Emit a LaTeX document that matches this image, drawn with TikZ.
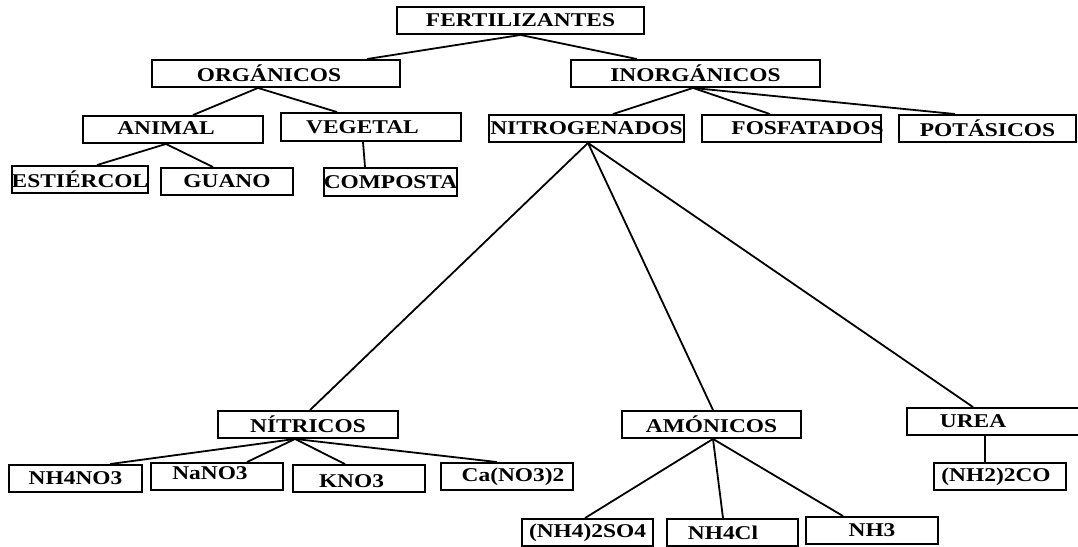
\documentclass[tikz,border=0pt]{standalone}
\usepackage{fontspec}
\setmainfont{Liberation Serif}[FakeStretch=1.2]

\begin{document}
\begin{tikzpicture}[x=1pt,y=-1pt,line width=1.9pt,
    font=\fontsize{19.5}{21}\selectfont\bfseries,
    caja/.style={draw,rectangle,inner sep=0pt,minimum height=27pt},
    rama/.style={line width=1.8pt}]

    \useasboundingbox (0,0) rectangle (1078,546);

    % las cajas

    \node[caja,minimum width=247pt] (fert) at (520.5,20.5) {FERTILIZANTES};

    \node[caja,minimum width=248pt,label={[xshift=-7pt]center:ORGÁNICOS}] (orga) at (276,73.5) {};
    \node[caja,minimum width=249pt] (inor) at (695.5,73.5) {INORGÁNICOS};

    \node[caja,minimum width=180pt,label={[xshift=-7pt,yshift=1pt]center:ANIMAL}] (anim) at (173,129.5) {};
    \node[caja,minimum width=180pt,minimum height=28pt,label={[xshift=-8.5pt]center:VEGETAL}] (vege) at (371,127) {};
    \node[caja,minimum width=132pt] (estie) at (80,179.5) {ESTIÉRCOL};
    \node[caja,minimum width=132pt] (guano) at (227,181.5) {GUANO};
    \node[caja,minimum width=133pt,minimum height=28pt] (compo) at (390.5,182) {COMPOSTA};

    \node[caja,minimum width=195pt] (nitro) at (586.5,128.5) {NITROGENADOS};
    \node[caja,minimum width=179pt,label={[xshift=16pt]center:FOSFATADOS}] (fosfa) at (791.5,128.5) {};
    \node[caja,minimum width=177pt] (potas) at (987.5,128.5) {POTÁSICOS};

    \node[caja,minimum width=180pt] (nitri) at (308,424.5) {NÍTRICOS};
    \node[caja,minimum width=179pt] (amoni) at (711.5,424.5) {AMÓNICOS};
    \node[caja,minimum width=179pt,label={[xshift=-23.5pt]center:UREA}] (urea) at (996.5,421.5) {};

    \node[caja,minimum width=133pt] (nhno) at (75.5,478.5) {NH4NO3};
    \node[caja,minimum width=132pt,label={[xshift=-7pt,yshift=3.5pt]center:NaNO3}] (nano) at (217,476.5) {};
    \node[caja,minimum width=132pt,label={[xshift=-7.5pt,yshift=-3pt]center:KNO3}] (kno) at (359,478.5) {};
    \node[caja,minimum width=132pt,label={[xshift=6pt]center:Ca(NO3)2}] (cano) at (507,476.5) {};

    \node[caja,minimum width=131pt] (nhso) at (587.5,532.5) {(NH4)2SO4};
    \node[caja,minimum width=131pt,label={[xshift=-9.5pt]center:NH4Cl}] (nhcl) at (732.5,532.5) {};
    \node[caja,minimum width=132pt] (nhtr) at (872,530.5) {NH3};

    \node[caja,minimum width=132pt,label={[xshift=-4pt]center:(NH2)2CO}] (nhco) at (1000,476.5) {};

    % las ramas

    \draw[rama] (fert.south) to ([xshift=91pt]orga.north);
    \draw[rama] (fert.south) to ([xshift=-58.5pt]inor.north);

    \draw[rama] ([xshift=-18pt]orga.south) to ([xshift=20pt]anim.north);
    \draw[rama] ([xshift=-18pt]orga.south) to ([xshift=-34pt]vege.north);
    \draw[rama] ([xshift=-7pt]anim.south) to ([xshift=17pt]estie.north);
    \draw[rama] ([xshift=-7pt]anim.south) to ([xshift=-14pt]guano.north);
    \draw[rama] ([xshift=-8pt]vege.south) to ([xshift=-25.5pt]compo.north);

    \draw[rama] ([xshift=-2.5pt]inor.south) to ([xshift=26.5pt]nitro.north);
    \draw[rama] ([xshift=-2.5pt]inor.south) to ([xshift=-21.5pt]fosfa.north);
    \draw[rama] ([xshift=-2.5pt]inor.south) to ([xshift=-32.5pt]potas.north);

    \draw[rama] ([xshift=1.5pt]nitro.south) to ([xshift=2pt]nitri.north);
    \draw[rama] ([xshift=1.5pt]nitro.south) to ([xshift=1.5pt]amoni.north);
    \draw[rama] ([xshift=1.5pt]nitro.south) to ([xshift=-23.5pt]urea.north);

    \draw[rama] ([xshift=-13pt]nitri.south) to ([xshift=34.5pt]nhno.north);
    \draw[rama] ([xshift=-13pt]nitri.south) to ([xshift=30pt]nano.north);
    \draw[rama] ([xshift=-13pt]nitri.south) to ([xshift=-14pt]kno.north);
    \draw[rama] ([xshift=-13pt]nitri.south) to ([xshift=-10pt]cano.north);

    \draw[rama] ([xshift=1.5pt]amoni.south) to ([xshift=-2.5pt]nhso.north);
    \draw[rama] ([xshift=1.5pt]amoni.south) to ([xshift=-9.5pt]nhcl.north);
    \draw[rama] ([xshift=1.5pt]amoni.south) to ([xshift=-29pt]nhtr.north);

    \draw[rama] ([xshift=-11.5pt]urea.south) to ([xshift=-15pt]nhco.north);
  \end{tikzpicture}
\end{document}
